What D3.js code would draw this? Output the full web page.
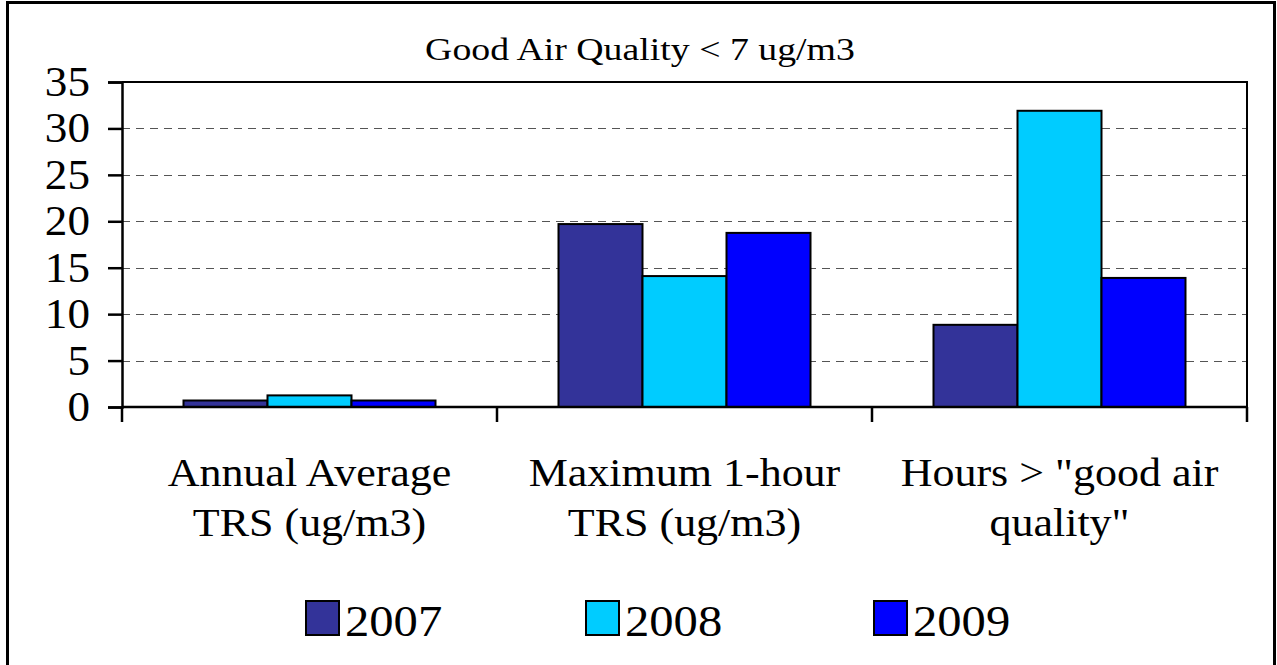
<!DOCTYPE html>
<html>
<head>
<meta charset="utf-8">
<script src="https://cdn.jsdelivr.net/npm/d3@7"></script>
<style>
  html, body { margin: 0; padding: 0; background: #fff; }
  text { font-family: "Liberation Serif", "Times New Roman", serif; fill: #000; }
</style>
</head>
<body>
<div id="main"></div>
<script>
// chart values
const categories = ["Annual Average TRS (ug/m3)", "Maximum 1-hour TRS (ug/m3)", "Hours > \"good air quality\""];
const categoryLines = [["Annual Average", "TRS (ug/m3)"], ["Maximum 1-hour", "TRS (ug/m3)"], ["Hours > \"good air", "quality\""]];
const years = ["2007", "2008", "2009"];
const values2007 = [0.7, 19.7, 8.85];
const values2008 = [1.25, 14.1, 31.9];
const values2009 = [0.7, 18.75, 13.9];
const yTicks = [0, 5, 10, 15, 20, 25, 30, 35];
const title = "Good Air Quality < 7 ug/m3";
const colors = ["#333399", "#00ccff", "#0000ff"];

const width = 1277, height = 665;
const plot = {left: 122, right: 1247, top: 82, bottom: 407};

const series = [values2007, values2008, values2009];
const rows = categories.map((c, i) => ({cat: c, vals: years.map((y, j) => ({year: y, value: series[j][i]}))}));

const svg = d3.select('#main').append('svg')
  .attr('width', width).attr('height', height);

// outer chart border
svg.append('rect')
  .attr('x', 7.5).attr('y', 2.5).attr('width', 1267).attr('height', 700)
  .attr('fill', 'none').attr('stroke', '#000').attr('stroke-width', 3);

// scales
const x0 = d3.scaleBand().domain(categories).range([plot.left, plot.right])
  .paddingInner(0.328).paddingOuter(0.164);
const x1 = d3.scaleBand().domain(years).range([0, x0.bandwidth()]);
const y = d3.scaleLinear().domain([0, 35]).range([plot.bottom, plot.top]);

// gridlines
svg.append('g').selectAll('line').data(yTicks.filter(t => t > 0 && t < 35))
  .enter().append('line')
  .attr('x1', plot.left).attr('x2', plot.right)
  .attr('y1', d => Math.round(y(d)) + 0.5).attr('y2', d => Math.round(y(d)) + 0.5)
  .attr('stroke', '#555').attr('stroke-width', 1.2).attr('stroke-dasharray', '8,6');

// plot frame top/right
svg.append('path')
  .attr('d', `M${plot.left},${plot.top}H${plot.right}V${plot.bottom}`)
  .attr('fill', 'none').attr('stroke', '#000').attr('stroke-width', 2);

// bars
svg.append('g').selectAll('g').data(rows).enter().append('g')
  .attr('transform', d => `translate(${x0(d.cat)},0)`)
  .selectAll('rect').data(d => d.vals).enter().append('rect')
  .attr('x', d => x1(d.year))
  .attr('y', d => y(d.value))
  .attr('width', x1.bandwidth())
  .attr('height', d => y(0) - y(d.value))
  .attr('fill', (d, i) => colors[i])
  .attr('stroke', '#000').attr('stroke-width', 2);

// y axis
const yAxis = d3.axisLeft(y).tickValues(yTicks).tickSize(14).tickPadding(0).tickFormat('');
const gy = svg.append('g').attr('transform', `translate(${plot.left},0)`).call(yAxis);
gy.select('.domain').attr('stroke', '#000').attr('stroke-width', 2.5);
gy.selectAll('.tick line').attr('stroke-width', 2.5);
svg.append('g').selectAll('text').data(yTicks).enter().append('text')
  .attr('transform', d => `translate(90,${y(d) + 14}) scale(1.05,1)`)
  .attr('text-anchor', 'end').attr('font-size', 43)
  .text(d => d);

// x axis: ticks at category boundaries
const step = x0.step();
const boundaries = d3.range(categories.length + 1).map(i => plot.left + i * step);
svg.append('line').attr('x1', plot.left).attr('x2', plot.right)
  .attr('y1', plot.bottom).attr('y2', plot.bottom)
  .attr('stroke', '#000').attr('stroke-width', 2.5);
svg.append('g').selectAll('line').data(boundaries).enter().append('line')
  .attr('x1', d => d).attr('x2', d => d)
  .attr('y1', plot.bottom).attr('y2', plot.bottom + 15)
  .attr('stroke', '#000').attr('stroke-width', 2.5);

// category labels
const lab = svg.append('g').selectAll('text').data(categories).enter().append('text')
  .attr('transform', d => `translate(${x0(d) + x0.bandwidth() / 2},0) scale(1.1,1)`)
  .attr('text-anchor', 'middle').attr('font-size', 40);
lab.selectAll('tspan').data((d, i) => categoryLines[i]).enter().append('tspan')
  .attr('x', 0)
  .attr('y', (d, i) => 486 + i * 50)
  .text(d => d);

// title
svg.append('text').attr('transform', 'translate(640,60) scale(1.22,1)')
  .attr('text-anchor', 'middle').attr('font-size', 31).text(title);

// legend
const legendX = [305, 585, 873];
const lg = svg.append('g').selectAll('g').data(years).enter().append('g')
  .attr('transform', (d, i) => `translate(${legendX[i]},600)`);
lg.append('rect').attr('x', 1).attr('y', 1).attr('width', 33).attr('height', 34)
  .attr('fill', (d, i) => colors[i]).attr('stroke', '#000').attr('stroke-width', 2);
lg.append('text').attr('transform', 'translate(40,36) scale(1.08,1)')
  .attr('font-size', 45).text(d => d);
</script>
</body>
</html>
